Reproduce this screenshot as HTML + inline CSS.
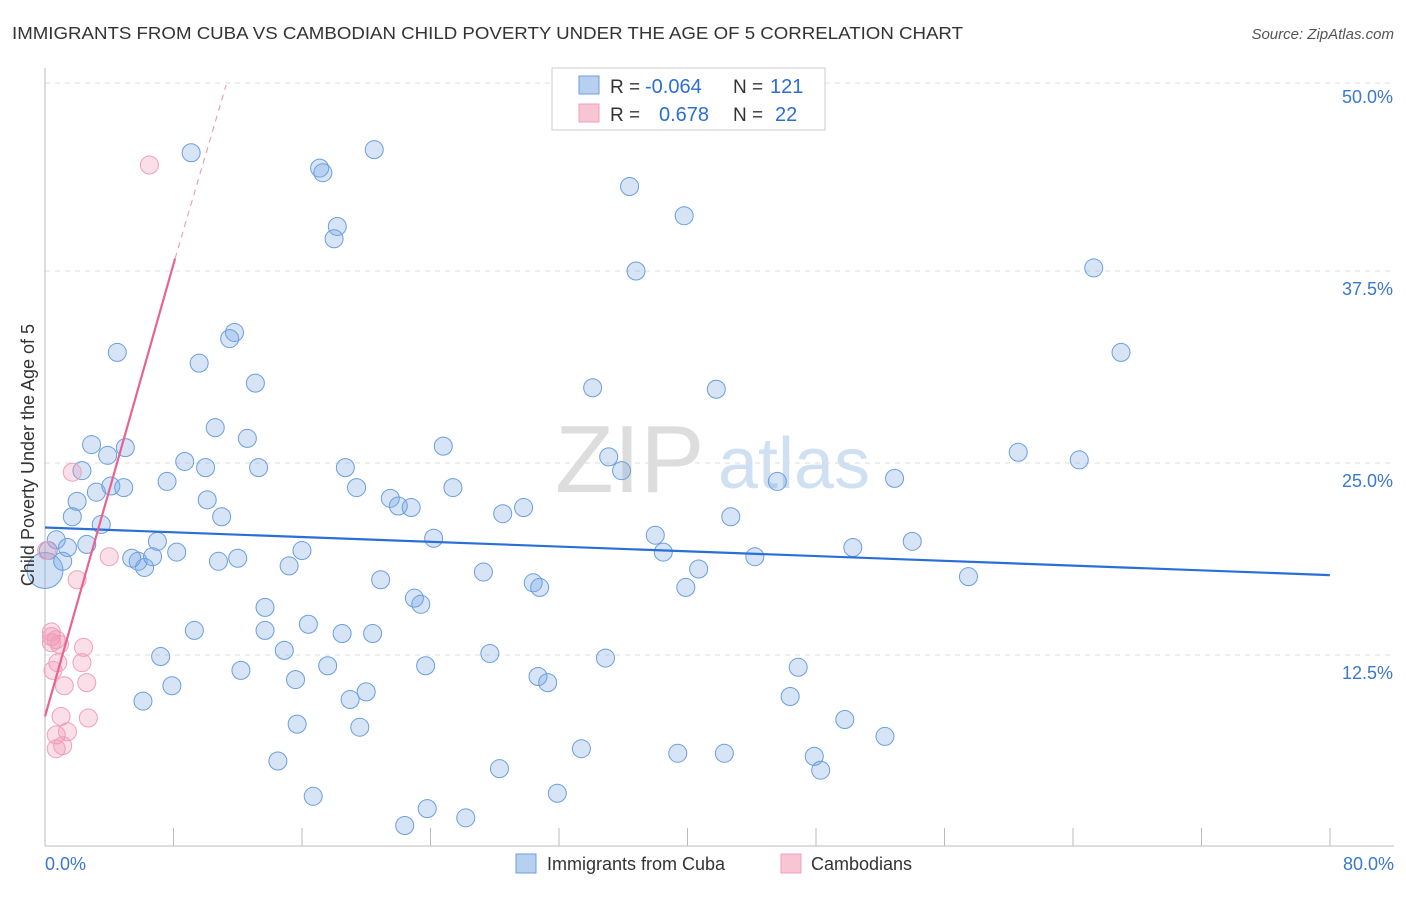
<!DOCTYPE html>
<html><head><meta charset="utf-8"><style>
body{margin:0;background:#fff;font-family:"Liberation Sans",sans-serif;}
svg text{font-family:"Liberation Sans",sans-serif;}
</style></head><body>
<svg id="chart" width="1406" height="892" viewBox="0 0 1406 892">
<text x="12" y="39" font-size="17.5" fill="#333" textLength="951" lengthAdjust="spacingAndGlyphs">IMMIGRANTS FROM CUBA VS CAMBODIAN CHILD POVERTY UNDER THE AGE OF 5 CORRELATION CHART</text>
<text x="1394" y="39" font-size="15" fill="#555" text-anchor="end" font-style="italic">Source: ZipAtlas.com</text>
<text x="555" y="492" font-size="96" fill="#ddd" font-family="Liberation Serif">ZIP</text>
<text x="718" y="488" font-size="72" fill="#cfe0f3">atlas</text>
<g id="grid"></g><g id="axes"></g><g id="pts"></g><g id="trend"></g>
<text transform="translate(34,455) rotate(-90)" font-size="18" fill="#333" text-anchor="middle">Child Poverty Under the Age of 5</text>
<g>
<rect x="552" y="68" width="273" height="62" fill="#fff" stroke="#ccc"/>
<rect x="579" y="76" width="20" height="18" fill="#b7d0f0" stroke="#6a9ee0"/>
<rect x="579" y="104" width="20" height="18" fill="#f7c5d4" stroke="#f0a0b8"/>
<text x="610" y="93" font-size="19" fill="#333">R =</text>
<text x="645" y="93" font-size="20" fill="#2a6fd6">-0.064</text>
<text x="733" y="93" font-size="19" fill="#333">N =</text>
<text x="770" y="93" font-size="20" fill="#2a6fd6">121</text>
<text x="610" y="121" font-size="19" fill="#333">R =</text>
<text x="659" y="121" font-size="20" fill="#2a6fd6">0.678</text>
<text x="733" y="121" font-size="19" fill="#333">N =</text>
<text x="775" y="121" font-size="20" fill="#2a6fd6">22</text>
</g>
<g>
<rect x="516" y="854" width="20" height="19" fill="#b7d0f0" stroke="#6a9ee0"/>
<text x="547" y="870" font-size="18" fill="#333">Immigrants from Cuba</text>
<rect x="781" y="854" width="20" height="19" fill="#f7c5d4" stroke="#f0a0b8"/>
<text x="811" y="870" font-size="18" fill="#333">Cambodians</text>
</g>
</svg>
<script>
const cubaX=[9.1,17.1,17.3,20.5,18.2,18.0,36.4,39.8,36.8,65.3,67.0,4.5,9.6,11.5,11.8,13.1,34.1,41.8,2.9,5.0,3.9,10.6,12.6,24.8,8.7,10.0,13.3,18.7,35.1,35.9,60.6,64.4,2.3,4.1,4.9,7.6,3.2,2.0,10.1,19.4,21.5,22.0,22.8,25.4,28.5,29.8,45.6,52.9,1.7,3.5,11.0,42.7,24.2,38.0,54.0,50.3,0.7,1.4,2.6,7.0,8.2,16.0,38.5,44.2,0.2,1.1,5.4,5.8,6.2,6.7,10.8,12.0,15.2,27.3,20.9,30.4,30.8,40.7,39.9,57.5,13.7,23.0,23.4,9.3,13.7,16.4,18.5,20.4,7.2,14.9,27.7,34.9,46.9,12.2,17.6,23.7,30.7,31.3,15.6,7.9,20.0,19.0,6.1,46.4,15.7,19.6,49.8,52.3,33.4,39.4,42.3,47.9,48.3,14.5,28.3,16.7,23.8,31.9,22.4,26.2];
const cubaY=[45.2,44.2,43.9,45.4,40.4,39.6,43.0,41.1,37.5,37.7,32.2,32.2,31.5,33.1,33.5,30.2,29.9,29.8,26.2,26.0,25.5,27.3,26.6,26.1,25.1,24.7,24.7,24.7,25.4,24.5,25.7,25.2,24.5,23.5,23.4,23.8,23.1,22.5,22.6,23.4,22.7,22.2,22.1,23.4,21.7,22.1,23.8,24.0,21.5,21.0,21.5,21.5,20.1,20.3,19.9,19.5,20.0,19.5,19.7,19.9,19.2,19.3,19.2,18.9,19.3,18.6,18.8,18.6,18.2,18.9,18.6,18.8,18.3,17.9,17.4,17.2,16.9,18.1,16.9,17.6,15.6,16.2,15.8,14.1,14.1,14.5,13.9,13.9,12.4,12.8,12.6,12.3,11.7,11.5,11.8,11.8,11.1,10.7,10.9,10.5,10.1,9.6,9.5,9.8,8.0,7.8,8.3,7.2,6.4,6.1,6.1,5.9,5.0,5.6,5.1,3.3,2.5,3.5,1.4,1.9];
const camX=[6.5,1.7,4.0,2.0,0.4,0.7,0.4,0.9,2.4,0.8,0.5,2.3,1.2,2.6,1.0,2.7,0.7,1.4,0.7,1.1,0.1,0.4];
const camY=[44.4,24.4,18.9,17.4,13.7,13.5,13.3,13.2,13.0,12.0,11.5,12.0,10.5,10.7,8.5,8.4,7.3,7.5,6.4,6.6,19.3,14.0];
const cubaTrend=[20.8,17.7];
const camTrend=[8.5,3.68];
const yTicks=[12.5,25.0,37.5,50.0];
const sx=v=>45+v*16.06, sy=v=>847-v*15.36;
const NS="http://www.w3.org/2000/svg";
function mk(tag,at,parent){const e=document.createElementNS(NS,tag);for(const k in at)e.setAttribute(k,at[k]);document.getElementById(parent).appendChild(e);return e;}
yTicks.forEach(t=>{
 const l=mk('line',{x1:45,x2:1394,y1:sy(t)-(t==50?-4:0),y2:sy(t)-(t==50?-4:0),stroke:'#ddd','stroke-dasharray':'5,5'},'grid');
 
 
 const tx=mk('text',{x:1393,y:sy(t)+24,'font-size':18,fill:'#3a78d0','text-anchor':'end'},'grid');
 tx.textContent=t.toFixed(1)+'%';
 
 
});
mk('line',{x1:45,x2:45,y1:68,y2:846,stroke:'#bbb'},'axes');
mk('line',{x1:45,x2:1394,y1:846,y2:846,stroke:'#bbb'},'axes');
for(let i=0;i<=10;i++){mk('line',{x1:45+i*128.5,x2:45+i*128.5,y1:828,y2:846,stroke:'#bbb'},'axes');}
const x0=mk('text',{x:45,y:870,'font-size':18,fill:'#3a78d0'},'axes');x0.textContent='0.0%';


const x1=mk('text',{x:1394,y:870,'font-size':18,fill:'#3a78d0','text-anchor':'end'},'axes');x1.textContent='80.0%';


const big=mk('circle',{cx:sx(0),cy:sy(18.0),r:18,fill:'rgba(120,165,225,0.35)',stroke:'#6a9ee0','stroke-width':1},'pts');


cubaX.forEach((x,i)=>{
 const c=mk('circle',{cx:sx(x),cy:sy(cubaY[i]),r:9,fill:'rgba(120,165,225,0.3)',stroke:'#6a9ee0','stroke-width':1},'pts');
 
 
});
camX.forEach((x,i)=>{
 const c=mk('circle',{cx:sx(x),cy:sy(camY[i]),r:9,fill:'rgba(240,150,180,0.3)',stroke:'#f0a0b8','stroke-width':1},'pts');
 
 
});
const bt=mk('line',{x1:sx(0),y1:sy(cubaTrend[0]),x2:sx(80),y2:sy(cubaTrend[1]),stroke:'#2a6fd6','stroke-width':2.2},'trend');


const pEnd=8.1, pMax=(50-camTrend[0])/camTrend[1];
const pt=mk('line',{x1:sx(0),y1:sy(camTrend[0]),x2:sx(pEnd),y2:sy(camTrend[0]+camTrend[1]*pEnd),stroke:'#e8648f','stroke-width':2.2},'trend');


const pd=mk('line',{x1:sx(pEnd),y1:sy(camTrend[0]+camTrend[1]*pEnd),x2:sx(pMax),y2:sy(50)+6,stroke:'#f0a0b8','stroke-width':1.2,'stroke-dasharray':'6,5'},'trend');


</script>
</body></html>
